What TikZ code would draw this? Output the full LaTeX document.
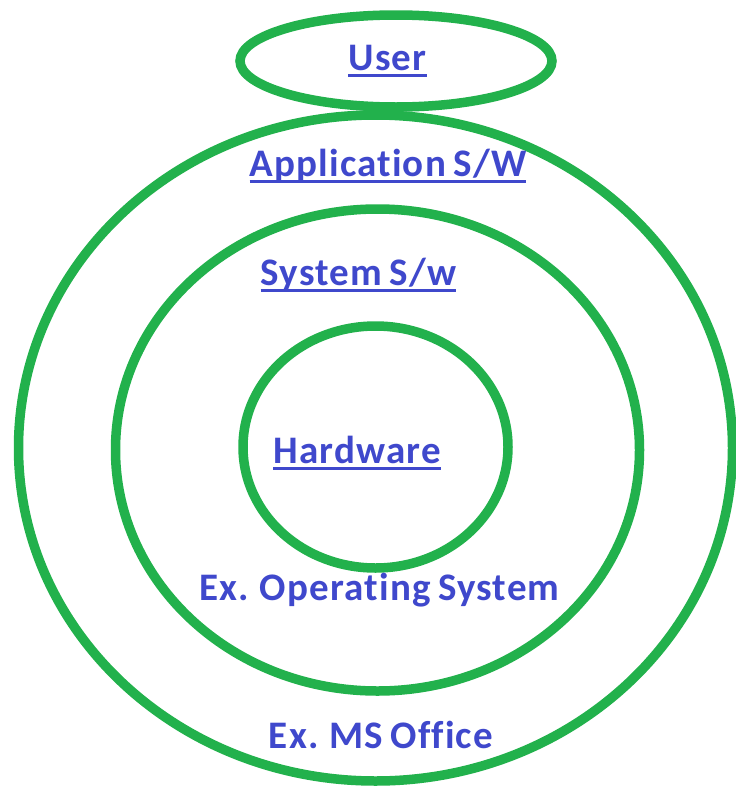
\documentclass[tikz,border=0pt]{standalone}
\usepackage{fontspec}
\setmainfont[Ligatures=NoCommon,LetterSpace=3,WordSpace=0.75]{Carlito}
\definecolor{ringgreen}{HTML}{22B14C}
\definecolor{labelblue}{HTML}{3F48CC}
\newcommand\ulin[1]{\setbox0\hbox{#1}\rlap{\rule[-7pt]{\wd0}{2.6pt}}\box0}
\begin{document}
\begin{tikzpicture}[x=1pt,y=-1pt,
  ring/.style={draw=ringgreen,line width=9.5pt},
  lbl/.style={anchor=base,inner sep=0pt,text=labelblue,font=\fontsize{39}{42}\selectfont\bfseries}]
\useasboundingbox (0,0) rectangle (736,790);
\draw[ring] (375.5,448) ellipse [x radius=357, y radius=333];
\draw[ring] (377.5,450) ellipse [x radius=262, y radius=241];
\draw[ring] (375.5,447) ellipse [x radius=132.5, y radius=121];
\draw[ring] (396,61) ellipse [x radius=156, y radius=46];
\node[lbl] (user) at (387.5,70) {\ulin{User}};
\node[lbl] (app) at (388,176) {\ulin{Application S/W}};
\node[lbl] (sys) at (358.5,285) {\ulin{System S/w}};
\node[lbl] (hw) at (357,463) {\ulin{Hardware}};
\node[lbl] (os) at (379.5,600) {Ex. Operating System};
\node[lbl] (ms) at (381,748) {Ex. MS Office};
\end{tikzpicture}
\end{document}
